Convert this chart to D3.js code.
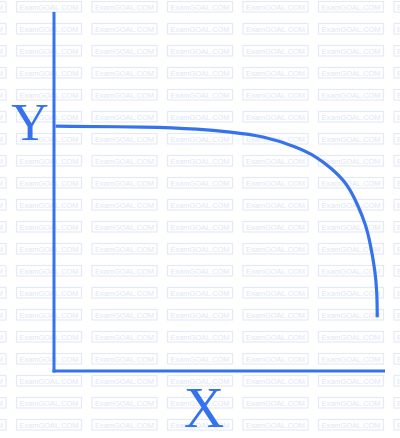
<!DOCTYPE html>
<html>
<head>
<meta charset="utf-8">
<script src="https://cdn.jsdelivr.net/npm/d3@7"></script>
<style>
  html, body { margin: 0; padding: 0; background: #fff; }
  svg { display: block; }
</style>
</head>
<body>
<script>
// ---- data ----
const curveX = [0.5, 29.1, 44.2, 53.3, 63.3, 73.6, 79.7, 83.6, 88.8, 92.1, 94.5, 95.8, 97.3, 97.9, 97.95];
const curveY = [68.2, 68.0, 67.4, 66.6, 65.5, 62.4, 59.6, 56.8, 52.4, 46.2, 40.7, 35.7, 28.1, 21.7, 15.0];
const axisLabels = ["X", "Y"];
const watermarkText = "ExamGOAL.COM";

const W = 400, H = 438;
const blue = "#3573ee";
const svg = d3.select("body").append("svg").attr("width", W).attr("height", H);

// watermark grid
const wm = svg.append("g");
for (let j = 0; j < 20; j++) {
  for (let k = -1; k < 6; k++) {
    const x0 = 17 + 75.5 * k, y0 = 1.5 + 22 * j;
    wm.append("rect").attr("x", x0 - 0.5).attr("y", y0).attr("width", 65).attr("height", 10.5)
      .attr("fill", "none").attr("stroke", "#e4e9f8").attr("stroke-width", 1.2);
    wm.append("text").attr("x", x0 + 2.5).attr("y", y0 + 8.2)
      .attr("font-family", "Liberation Sans, Arial, sans-serif").attr("font-size", 7.6)
      .attr("textLength", 59).attr("lengthAdjust", "spacingAndGlyphs")
      .attr("fill", "#e0e6f7").text(watermarkText);
  }
}

const x = d3.scaleLinear().domain([0, 100]).range([54, 384]);
const y = d3.scaleLinear().domain([0, 100]).range([371, 12]);

// axes (domain lines only)
const gx = svg.append("g").attr("transform", `translate(0,${y(0)})`)
  .call(d3.axisBottom(x).ticks(0).tickSizeOuter(0));
const gy = svg.append("g").attr("transform", `translate(${x(0)},0)`)
  .call(d3.axisLeft(y).ticks(0).tickSizeOuter(0));
[gx, gy].forEach(g => g.select(".domain").attr("stroke", blue).attr("stroke-width", 3));
gy.select(".domain").attr("d", `M0,${y(100)}V${y(0) + 1.5}`);
gx.select(".domain").attr("d", `M${x(0) - 1.5},0H${x(100) + 1}`);

// curve
const pts = curveX.map((v, i) => [v, curveY[i]]);
svg.append("path").datum(pts)
  .attr("fill", "none").attr("stroke", blue).attr("stroke-width", 3.2)
  .attr("d", d3.line().x(d => x(d[0])).y(d => y(d[1])).curve(d3.curveBasis));

// labels
svg.append("text").attr("x", 30).attr("y", 140).attr("text-anchor", "middle")
  .attr("font-family", "Liberation Serif, Times New Roman, serif").attr("font-size", 52)
  .attr("fill", blue).text(axisLabels[1]);
svg.append("text").attr("x", 204).attr("y", 427).attr("text-anchor", "middle")
  .attr("font-family", "Liberation Serif, Times New Roman, serif").attr("font-size", 56)
  .attr("fill", blue).text(axisLabels[0]);
</script>
</body>
</html>
